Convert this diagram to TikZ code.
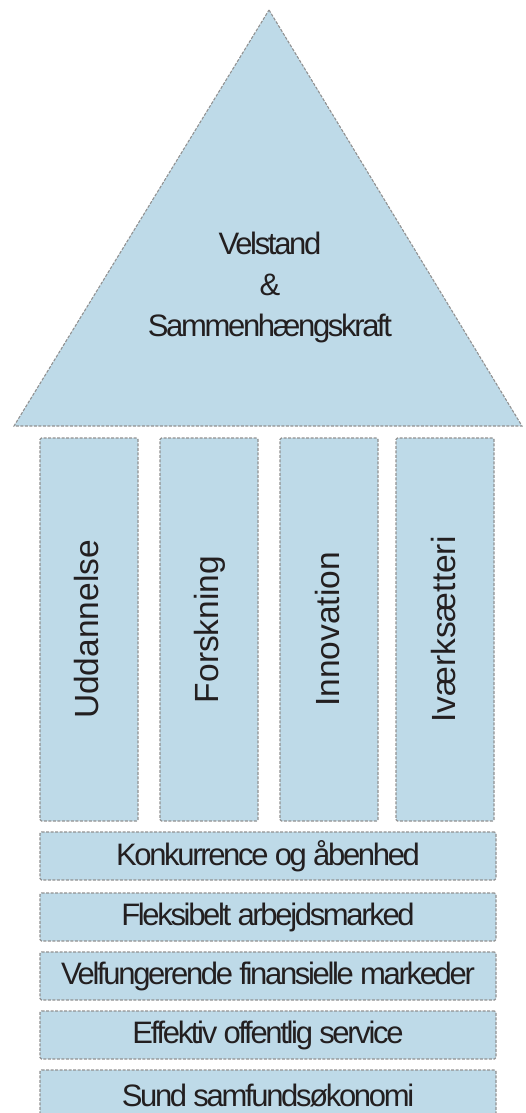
\documentclass[tikz,border=0pt]{standalone}
\usepackage{fontspec}
\setmainfont{Liberation Sans}
\newfontfamily\tightfont[LetterSpace=-7.5]{Liberation Sans}
\definecolor{boxfill}{RGB}{190,218,232}
\definecolor{boxline}{RGB}{145,145,145}
\definecolor{txt}{RGB}{35,31,32}
\begin{document}
\begin{tikzpicture}[x=1pt,y=-1pt,
  outline/.style={draw=boxline,fill=boxfill,line width=1.1pt,dash pattern=on 3pt off 1.5pt},
  pillar/.style={outline,rounded corners=1.5pt,minimum width=98pt,minimum height=383pt,inner sep=0pt},
  pillartext/.style={rotate=90,anchor=base,text=txt,font=\fontsize{33.5}{40}\selectfont,inner sep=0pt},
  bar/.style={outline,rounded corners=1.5pt,minimum width=456pt,minimum height=48pt,inner sep=0pt,
    text=txt,font=\tightfont\fontsize{31}{37}\selectfont},
  roof/.style={text=txt,align=center,font=\tightfont\fontsize{31}{41}\selectfont,inner sep=0pt}]
\useasboundingbox (0,0) rectangle (526,1113);
\begin{scope}
\clip (0,0) rectangle (526,1113);
% roof
\draw[outline] (269,10) -- (522,426) -- (14,426) -- cycle;
\node[roof] (roofText) at (270,287) {Velstand\\\&\\Sammenhængskraft};
% pillars
\node[pillar] (p1) at (89,629.5) {};
\node[pillar] (p2) at (209,629.5) {};
\node[pillar] (p3) at (329,629.5) {};
\node[pillar] (p4) at (445,629.5) {};
\node[pillartext] (t1) at ([xshift=9.5pt]p1.center) {Uddannelse};
\node[pillartext] (t2) at ([xshift=9.5pt]p2.center) {Forskning};
\node[pillartext] (t3) at ([xshift=10.5pt]p3.center) {Innovation};
\node[pillartext] (t4) at ([xshift=10pt]p4.center) {Iværksætteri};
% foundation bars
\node[bar] (b1) at (268,856) {Konkurrence og åbenhed};
\node[bar] (b2) at (268,917) {Fleksibelt arbejdsmarked};
\node[bar] (b3) at (268,976) {Velfungerende finansielle markeder};
\node[bar] (b4) at (268,1035) {Effektiv offentlig service};
\node[bar,minimum height=52pt] (b5) at (268,1096) {};
\node[text=txt,font=\tightfont\fontsize{31}{37}\selectfont,inner sep=0pt] (b5t) at (268,1096) {Sund samfundsøkonomi};
\end{scope}
\end{tikzpicture}
\end{document}
